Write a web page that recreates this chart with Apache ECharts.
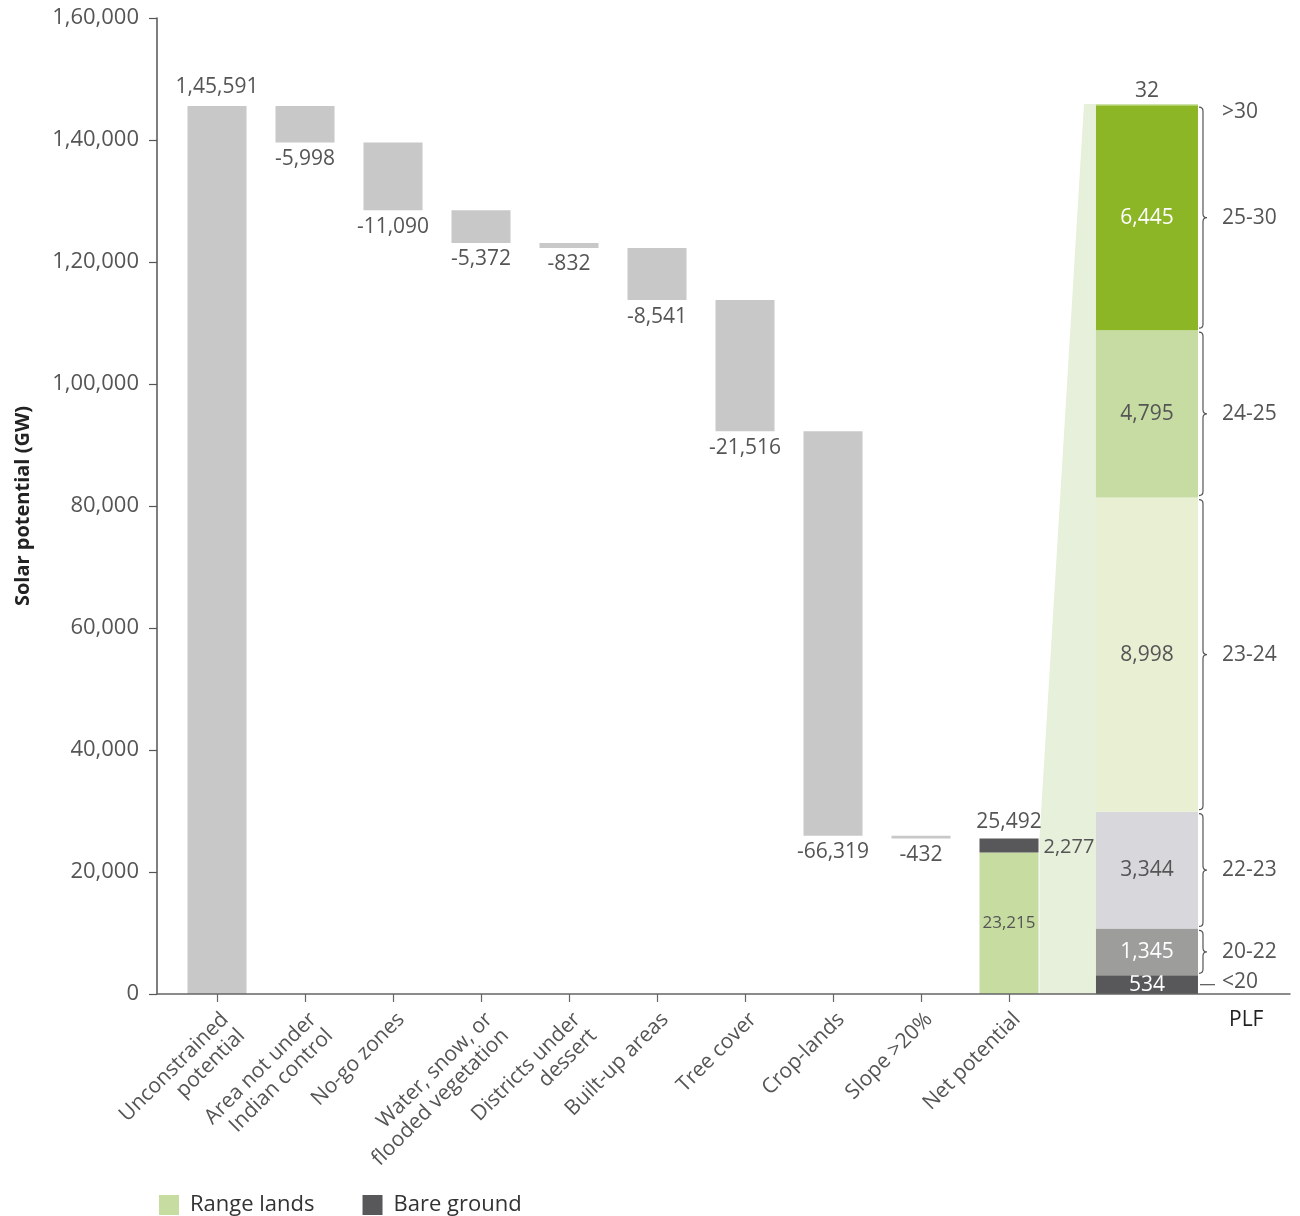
<!DOCTYPE html>
<html lang="en">
<head>
<meta charset="UTF-8">
<title>Solar potential</title>
<style>
  html, body { margin: 0; padding: 0; background: #fff; }
  #main { width: 1300px; height: 1216px; }
</style>
</head>
<body>
<div id="main"></div>
<script src="https://cdn.jsdelivr.net/npm/echarts@6/dist/echarts.min.js"></script>
<script>
// waterfall steps
var categories = ['Unconstrained\npotential', 'Area not under\nIndian control', 'No-go zones',
    'Water, snow, or\nflooded vegetation', 'Districts under\ndessert', 'Built-up areas',
    'Tree cover', 'Crop-lands', 'Slope >20%', 'Net potential'];
var unconstrained = 145591;
var reductions = [-5998, -11090, -5372, -832, -8541, -21516, -66319, -432];
var rangeLands = 23215;
var bareGround = 2277;

// net potential split by PLF class, bottom to top
var plfClasses = ['<20', '20-22', '22-23', '23-24', '24-25', '25-30', '>30'];
var plfValues = [534, 1345, 3344, 8998, 4795, 6445, 32];
var plfColors = ['#58585a', '#9d9d9c', '#d7d7dc', '#e8efd3', '#c6dca3', '#8cb626', '#cde2a6'];
var plfLabelColors = ['#fff', '#fff', '#555', '#555', '#555', '#fff', '#555'];
var plfMarks = ['dash', 'brace', 'brace', 'brace', 'brace', 'brace', 'none'];

var yMax = 160000, yStep = 20000;
var plfAxisMax = 27957;   // the PLF column is drawn on its own stretched scale
var plfSlot = 10.568;     // x position of the PLF column, in category units
var FONT = 'Open Sans';

function inr(v) {
    var neg = v < 0, s = String(Math.abs(Math.round(v)));
    if (s.length > 3) {
        var head = s.slice(0, -3).replace(/\B(?=(\d{2})+(?!\d))/g, ',');
        s = head + ',' + s.slice(-3);
    }
    return (neg ? '-' : '') + s;
}

// build waterfall stacks
var base = [0], drop = [], running = unconstrained;
drop.push({ value: unconstrained, label: { show: true, position: 'top', distance: 8, formatter: inr(unconstrained) } });
reductions.forEach(function (r) {
    running += r;
    base.push(running);
    drop.push({ value: -r, label: { show: true, position: 'bottom', distance: 6, formatter: inr(r) } });
});
base.push('-');
drop.push('-');

var netIdx = categories.length - 1;
var netTotal = rangeLands + bareGround;
function onlyNet(v) {
    var a = [];
    for (var i = 0; i < categories.length; i++) a.push(i === netIdx ? v : '-');
    return a;
}

var plfTotal = plfValues.reduce(function (a, b) { return a + b; }, 0);
var plfCum = [], acc = 0;
plfValues.forEach(function (v, i) { plfCum.push([plfSlot, acc, acc + v, i]); acc += v; });

var labelStyle = { color: '#555', fontSize: 21, fontFamily: FONT };

var series = [
    { name: 'base', type: 'bar', stack: 'wf', barWidth: 59, silent: true,
      itemStyle: { color: 'transparent' }, data: base },
    { name: 'drop', type: 'bar', stack: 'wf', barWidth: 59,
      itemStyle: { color: '#c8c8c8' }, label: labelStyle, data: drop },
    { name: 'Range lands', type: 'bar', stack: 'wf', barWidth: 59,
      itemStyle: { color: '#c6dca0' },
      label: { show: true, position: 'inside', color: '#555', fontSize: 17, fontFamily: FONT, formatter: function (p) { return inr(p.value); } },
      data: onlyNet(rangeLands) },
    { name: 'Bare ground', type: 'bar', stack: 'wf', barWidth: 59,
      itemStyle: { color: '#58585a' },
      label: { show: true, position: 'right', distance: 5, offset: [0, 2], color: '#555', fontSize: 20, fontFamily: FONT, formatter: function (p) { return inr(p.value); } },
      data: onlyNet(bareGround) },
    { name: 'total', type: 'bar', stack: 'wf', barWidth: 59, silent: true,
      itemStyle: { color: 'transparent' },
      label: { show: true, position: 'top', distance: 6, color: '#555', fontSize: 21, fontFamily: FONT, formatter: inr(netTotal) },
      data: onlyNet(0) },
    // wedge linking the net bar to the PLF column
    { name: 'wedge', type: 'custom', xAxisIndex: 1, yAxisIndex: 1, silent: true, z: 1,
      data: [[netIdx, 0]],
      renderItem: function (params, api) {
          var bottom = api.coord([netIdx, 0]);
          var netRight = bottom[0] + 59 / 2 + 1;
          var netTop = api.coord([netIdx, netTotal / yMax * plfAxisMax])[1];
          var top = api.coord([plfSlot, plfTotal]);
          var plfLeft = top[0] - 51;
          return {
              type: 'polygon',
              shape: { points: [[netRight, netTop], [plfLeft - 12, top[1]], [plfLeft, top[1]], [plfLeft, bottom[1]], [netRight, bottom[1]]] },
              style: { fill: '#e7f0da' }
          };
      } },
    // PLF column with value labels, braces and class names
    { name: 'plf', type: 'custom', xAxisIndex: 1, yAxisIndex: 1, silent: true, z: 4,
      data: plfCum,
      renderItem: function (params, api) {
          var i = api.value(3);
          var lo = api.coord([plfSlot, api.value(1)]);
          var hi = api.coord([plfSlot, api.value(2)]);
          var left = lo[0] - 51, right = lo[0] + 51;
          var mid = (hi[1] + lo[1]) / 2;
          var last = i === plfValues.length - 1;
          var children = [
              { type: 'rect', shape: { x: left, y: hi[1], width: right - left, height: lo[1] - hi[1] },
                style: { fill: plfColors[i] } },
              { type: 'text', style: { text: inr(plfValues[i]), x: lo[0], y: last ? hi[1] - 3 : mid,
                  fill: plfLabelColors[i], fontSize: 21, fontFamily: FONT, align: 'center',
                  verticalAlign: last ? 'bottom' : 'middle' } }
          ];
          var top = hi[1] + 2, bot = lo[1] - 2, bx = right + 5;
          if (plfMarks[i] === 'brace') {
              var d = 'M' + (bx - 4) + ' ' + top + ' Q' + bx + ' ' + top + ' ' + bx + ' ' + (top + 4) +
                  ' L' + bx + ' ' + (mid - 4) + ' Q' + bx + ' ' + mid + ' ' + (bx + 4) + ' ' + mid +
                  ' Q' + bx + ' ' + mid + ' ' + bx + ' ' + (mid + 4) +
                  ' L' + bx + ' ' + (bot - 4) + ' Q' + bx + ' ' + bot + ' ' + (bx - 4) + ' ' + bot;
              children.push({ type: 'path', shape: { pathData: d }, style: { fill: 'none', stroke: '#555', lineWidth: 1.2 } });
          } else if (plfMarks[i] === 'dash') {
              children.push({ type: 'line', shape: { x1: right + 2, y1: mid, x2: right + 17, y2: mid },
                  style: { stroke: '#555', lineWidth: 1.2 } });
          }
          // tiny segments: keep the class name clear of the column ends
          var ly = mid;
          if (lo[1] - hi[1] < 24) ly = last ? hi[1] + 8 : lo[1] - 12;
          children.push({ type: 'text', style: { text: plfClasses[i], x: right + 24, y: ly, fill: '#555',
              fontSize: 21, fontFamily: FONT, align: 'left', verticalAlign: 'middle' } });
          return { type: 'group', children: children };
      } }
];

var chart = echarts.init(document.getElementById('main'));
chart.setOption({
    animation: false,
    textStyle: { fontFamily: FONT },
    legend: {
        left: 159, top: 1194, padding: 0, itemWidth: 20, itemHeight: 20, itemGap: 48, icon: 'rect',
        data: ['Range lands', 'Bare ground'],
        textStyle: { color: '#333', fontSize: 22, fontFamily: FONT, padding: [0, 0, 0, 6] }
    },
    grid: [
        { left: 173, top: 18, bottom: 222, width: 880 },
        { left: 157, top: 18, bottom: 222, right: 10 }
    ],
    xAxis: [
        { type: 'category', gridIndex: 0, data: categories,
          axisLine: { show: false },
          axisTick: { show: true, alignWithLabel: true, length: 8, lineStyle: { color: '#666', width: 1.2 } },
          axisLabel: { interval: 0, rotate: 45, margin: 14, verticalAlign: 'top', color: '#555',
                       fontSize: 21, lineHeight: 23, fontFamily: FONT } },
        { type: 'value', gridIndex: 1, min: -0.5 - 16 / 88, max: 9.5 + 237 / 88, z: 6,
          axisLine: { show: true, lineStyle: { color: '#666', width: 1.5 } },
          axisTick: { show: false }, axisLabel: { show: false }, splitLine: { show: false } }
    ],
    yAxis: [
        { type: 'value', gridIndex: 0, min: 0, max: yMax, interval: yStep, offset: 16,
          name: 'Solar potential (GW)', nameLocation: 'middle', nameGap: 124,
          nameTextStyle: { color: '#222', fontSize: 20, fontWeight: 'bold', fontFamily: FONT },
          axisLine: { show: true, lineStyle: { color: '#555', width: 1.5 } },
          axisTick: { show: true, length: 8, lineStyle: { color: '#555', width: 1.2 } },
          axisLabel: { margin: 18, color: '#555', fontSize: 22, fontFamily: FONT, formatter: inr },
          splitLine: { show: false } },
        { type: 'value', gridIndex: 1, min: 0, max: plfAxisMax, show: false, splitLine: { show: false } }
    ],
    graphic: [
        { type: 'text', left: 1229, top: 1010, style: { text: 'PLF', fill: '#222', fontSize: 21, fontFamily: FONT } }
    ],
    series: series
});
</script>
</body>
</html>
